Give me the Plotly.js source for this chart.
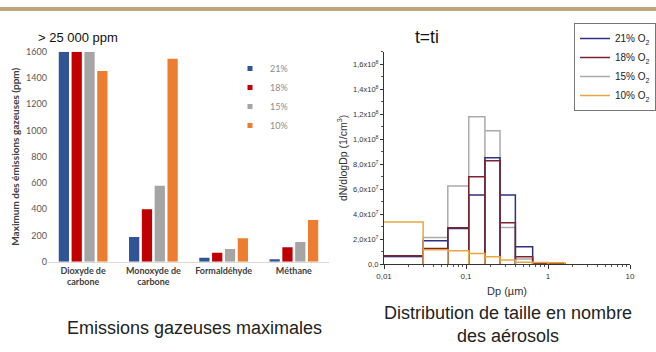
<!DOCTYPE html>
<html><head><meta charset="utf-8">
<script src="https://cdn.plot.ly/plotly-3.0.1.min.js"></script>
<style>html,body{margin:0;padding:0;background:#fff}#chart{width:656px;height:352px}</style>
</head><body><div id="chart"></div>
<script>
// ---- Left chart data (ppm) ----
const gasCategories = ["Dioxyde de<br>carbone", "Monoxyde de<br>carbone", "Formaldéhyde", "Méthane"];
const gasSeriesNames = ["21%", "18%", "15%", "10%"];
const gas21 = [1600, 188, 30, 18];
const gas18 = [1600, 399, 69, 110];
const gas15 = [1600, 579, 97, 150];
const gas10 = [1453, 1547, 178, 318];
const gasYTicks = [0, 200, 400, 600, 800, 1000, 1200, 1400, 1600];

// ---- Right chart data: bin edges (µm) and dN/dlogDp (1/cm3) ----
const binEdges = [0.007, 0.03, 0.06, 0.108, 0.17, 0.26, 0.40, 0.65, 1.0, 1.6];
const psdNames = ["21% O<sub>2</sub>", "18% O<sub>2</sub>", "15% O<sub>2</sub>", "10% O<sub>2</sub>"];
const psd21 = [0.60e7, 1.87e7, 2.85e7, 5.52e7, 8.50e7, 5.52e7, 1.39e7, 0.05e7, 0.03e7];
const psd18 = [0.66e7, 1.25e7, 2.90e7, 6.99e7, 8.27e7, 3.31e7, 0.59e7, 0.05e7, 0.03e7];
const psd15 = [0.60e7, 2.13e7, 6.24e7, 11.8e7, 10.67e7, 2.93e7, 0.40e7, 0.05e7, 0.03e7];
const psd10 = [3.36e7, 1.15e7, 1.07e7, 0.85e7, 0.59e7, 0.32e7, 0.15e7, 0.12e7, 0.10e7];
const psdYTickVals = [0, 2e7, 4e7, 6e7, 8e7, 1e8, 1.2e8, 1.4e8, 1.6e8];
const psdYTickText = ["0,0", "2,0x10<sup>7</sup>", "4,0x10<sup>7</sup>", "6,0x10<sup>7</sup>", "8,0x10<sup>7</sup>",
  "1,0x10<sup>8</sup>", "1,2x10<sup>8</sup>", "1,4x10<sup>8</sup>", "1,6x10<sup>8</sup>"];
const psdXTickVals = [0.01, 0.1, 1, 10];
const psdXTickText = ["0,01", "0,1", "1", "10"];

const W = 656, H = 352;
const px = x => x / W;
const py = y => 1 - y / H;

const barColors = ["#2F5597", "#C00000", "#A5A5A5", "#ED7D31"];
const lineColors = ["#2E2F86", "#7B2430", "#ABABAB", "#E9A640"];

function outline(edges, h) {
  const xs = [], ys = [];
  for (let i = 0; i < h.length; i++) {
    xs.push(edges[i], edges[i], edges[i + 1], edges[i + 1]);
    ys.push(0, h[i], h[i], 0);
  }
  return {xs, ys};
}

const traces = [];
[gas21, gas18, gas15, gas10].forEach((v, i) => {
  traces.push({type: "bar", x: gasCategories, y: v, name: gasSeriesNames[i],
    marker: {color: barColors[i]}, xaxis: "x", yaxis: "y", showlegend: false, legendgroup: "g" + i});
  // legend entry with a small square key, as in the reference
  traces.push({type: "scatter", mode: "markers", x: [null], y: [null], name: gasSeriesNames[i],
    marker: {color: barColors[i], symbol: "square", size: 5}, xaxis: "x", yaxis: "y",
    legend: "legend", legendgroup: "g" + i});
});
const psdAll = [psd21, psd18, psd15, psd10];
[2, 0, 1, 3].forEach(i => {
  const o = outline(binEdges, psdAll[i]);
  traces.push({type: "scatter", mode: "lines", x: o.xs, y: o.ys, name: psdNames[i],
    line: {color: lineColors[i], width: 1.5}, xaxis: "x2", yaxis: "y2",
    legend: "legend2", legendrank: i + 1});
});

const minorX = [];
[0.01, 0.1, 1].forEach(d => { for (let k = 2; k <= 9; k++) minorX.push(d * k); });

const layout = {
  width: W, height: H, margin: {l: 0, r: 0, t: 0, b: 0},
  paper_bgcolor: "#fff", plot_bgcolor: "rgba(0,0,0,0)",
  font: {family: "Liberation Sans, Arial, sans-serif", color: "#333"},
  barmode: "group", bargap: 0.27, bargroupgap: 0.2,
  showlegend: true,
  xaxis: {domain: [px(48), px(329)], type: "category", showline: true, linecolor: "#d9d9d9", linewidth: 1,
    ticks: "", tickfont: {family: "Lato, sans-serif", size: 9, color: "#404040", weight: "bold"}, fixedrange: true},
  yaxis: {domain: [py(261.7), py(51.7)], range: [0, 1600], tickvals: gasYTicks, showgrid: false, zeroline: false,
    ticks: "", tickfont: {family: "Lato, sans-serif", size: 9, color: "#595959"},
    title: {text: "Maximum des émissions gazeuses (ppm)", standoff: 4,
      font: {family: "Lato, sans-serif", size: 10, color: "#404040", weight: "bold"}}},
  xaxis2: {domain: [px(384), px(630)], type: "log", range: [-2, 1], anchor: "y2",
    tickvals: psdXTickVals, ticktext: psdXTickText, ticks: "outside", ticklen: 4, tickcolor: "#333",
    showline: true, linecolor: "#333", linewidth: 1, showgrid: false, zeroline: false,
    minor: {tickvals: minorX, ticks: "outside", ticklen: 2, tickcolor: "#555", showgrid: false},
    tickfont: {size: 8, color: "#333"},
    title: {text: "Dp (µm)", standoff: 7, font: {size: 11, color: "#333"}}},
  yaxis2: {domain: [py(264), py(51.7)], range: [0, 1.7e8], anchor: "x2",
    tickvals: psdYTickVals, ticktext: psdYTickText, ticks: "outside", ticklen: 3, tickcolor: "#333",
    showline: true, linecolor: "#333", linewidth: 1, showgrid: false, zeroline: false,
    minor: {dtick: 1e7, ticks: "outside", ticklen: 2, tickcolor: "#555", showgrid: false},
    tickfont: {size: 7.5, color: "#333"},
    title: {text: "dN/dlogDp (1/cm<sup>3</sup>)", standoff: 3, font: {size: 10.5, color: "#333"}}},
  legend: {x: px(230), y: py(54), xanchor: "left", yanchor: "top", bgcolor: "rgba(0,0,0,0)",
    font: {family: "Lato, sans-serif", size: 9, color: "#8C8C8C"}, itemwidth: 30, tracegroupgap: 0},
  legend2: {x: 1, y: py(23), xanchor: "right", yanchor: "top", bgcolor: "#fff",
    bordercolor: "#777", borderwidth: 1, font: {size: 10, color: "#222"}, itemwidth: 30, tracegroupgap: 0,
    traceorder: "normal"},
  shapes: [{type: "rect", xref: "paper", yref: "paper", x0: 0, x1: 1, y0: py(11), y1: py(7),
    fillcolor: "#BFA67A", line: {width: 0}}],
  annotations: [
    {text: "> 25 000 ppm", xref: "paper", yref: "paper", x: px(36), y: py(37), xanchor: "left", yanchor: "middle",
      showarrow: false, font: {size: 13, color: "#111"}},
    {text: "t=ti", xref: "paper", yref: "paper", x: px(427), y: py(37), xanchor: "center", yanchor: "middle",
      showarrow: false, font: {size: 17.5, color: "#111"}},
    {text: "Emissions gazeuses maximales", xref: "paper", yref: "paper", x: px(194), y: py(328), xanchor: "center",
      yanchor: "middle", showarrow: false, font: {size: 18, color: "#222"}},
    {text: "Distribution de taille en nombre<br>des aérosols", xref: "paper", yref: "paper", x: px(508), y: py(324),
      xanchor: "center", yanchor: "middle", showarrow: false, font: {size: 18, color: "#222"}}
  ]
};
Plotly.newPlot("chart", traces, layout, {staticPlot: true, displayModeBar: false});
</script></body></html>
